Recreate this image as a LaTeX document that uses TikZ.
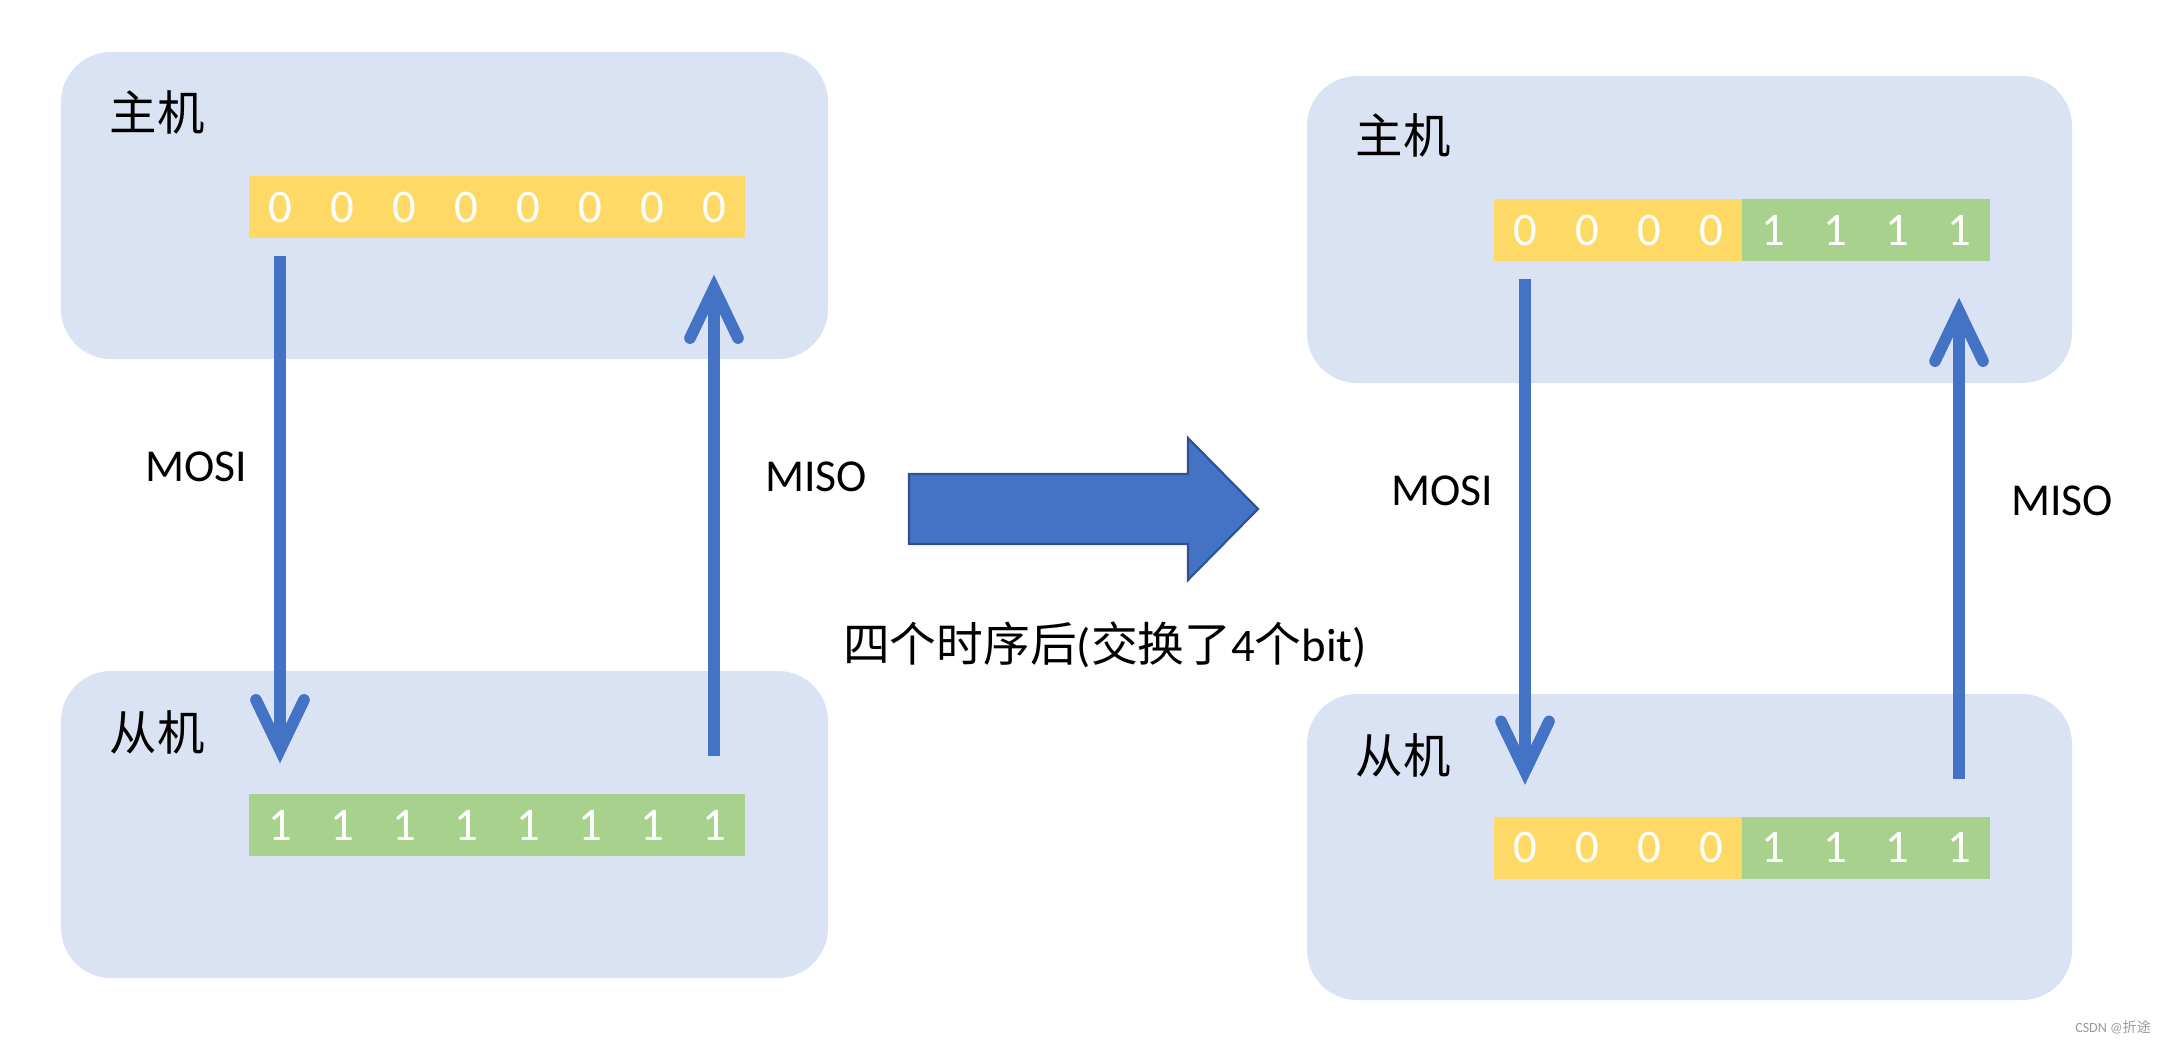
\documentclass[tikz,border=0pt]{standalone}
\usepackage{fontspec}
\setmainfont{Carlito}
\newfontfamily\cjk{Noto Sans CJK SC}
\usetikzlibrary{arrows.meta}
\definecolor{boxblue}{HTML}{DAE3F3}
\definecolor{bityellow}{HTML}{FFD966}
\definecolor{bitgreen}{HTML}{A9D18E}
\definecolor{arrowblue}{HTML}{4472C4}
\definecolor{arrowedge}{HTML}{2F528F}

\begin{document}
\begin{tikzpicture}[
    devbox/.style={fill=boxblue, rounded corners=0.5cm, minimum width=7.67cm, minimum height=3.07cm, inner sep=0pt},
    bitcell/.style={minimum width=0.625cm, minimum height=0.62cm, inner sep=0pt, text=white, font=\fontsize{13.3}{15}\selectfont},
    devlabel/.style={font=\cjk\fontsize{13.5}{16}\selectfont},
    linelabel/.style={font=\fontsize{13}{15}\selectfont},
    sigline/.style={arrowblue, line width=3.3pt, -{Straight Barb[length=0.5cm, width=0.48cm, line cap=round]}}
]
    \useasboundingbox (0,0) rectangle (21.63,10.41);

    % vorher
    \node[devbox] (lhost) at (4.445, 8.355) {};
    \node[devbox] (lslave) at (4.445, 2.165) {};
    \node[devlabel] (lhostlabel) at (1.57, 9.29) {主机};
    \node[devlabel] (lslavelabel) at (1.57, 3.09) {从机};

    \foreach \i in {1,...,8}
        \node[bitcell, fill=bityellow] (lm\i) at ({2.18+0.62*\i}, 8.34) {0};
    \foreach \i in {1,...,8}
        \node[bitcell, fill=bitgreen] (ls\i) at ({2.18+0.62*\i}, 2.16) {1};

    \draw[sigline] ([yshift=-0.17cm]lm1.south) -- ([yshift=0.30cm]ls1.north);
    \draw[sigline] ([yshift=0.37cm]ls8.north) -- ([yshift=-0.36cm]lm8.south);
    \node[linelabel] (lmosi) at (1.96, 5.74) {MOSI};
    \node[linelabel] (lmiso) at (8.16, 5.64) {MISO};

    % uebergang
    \draw[fill=arrowblue, draw=arrowedge, line width=0.6pt]
        (9.09,5.67) -- (11.88,5.67) -- (11.88,6.03) -- (12.58,5.32)
        -- (11.88,4.61) -- (11.88,4.97) -- (9.09,4.97) -- cycle;
    \node[font=\fontsize{13.3}{16}\selectfont] (step4) at (11.05, 3.96)
        {{\cjk 四个时序后}({\cjk 交换了}4{\cjk 个}bit)};

    % nachher
    \node[devbox, minimum width=7.65cm] (rhost) at (16.895, 8.115) {};
    \node[devbox, minimum width=7.65cm, minimum height=3.06cm] (rslave) at (16.895, 1.94) {};
    \node[devlabel] (rhostlabel) at (14.03, 9.06) {主机};
    \node[devlabel] (rslavelabel) at (14.03, 2.86) {从机};

    \foreach \i in {1,...,4} {
        \node[bitcell, fill=bityellow] (rm\i) at ({14.63+0.62*\i}, 8.11) {0};
        \node[bitcell, fill=bityellow] (rs\i) at ({14.63+0.62*\i}, 1.935) {0};
    }
    \foreach \i in {5,...,8} {
        \node[bitcell, fill=bitgreen] (rm\i) at ({14.63+0.62*\i}, 8.11) {1};
        \node[bitcell, fill=bitgreen] (rs\i) at ({14.63+0.62*\i}, 1.935) {1};
    }

    \draw[sigline] ([yshift=-0.17cm]rm1.south) -- ([yshift=0.31cm]rs1.north);
    \draw[sigline] ([yshift=0.37cm]rs8.north) -- ([yshift=-0.36cm]rm8.south);
    \node[linelabel] (rmosi) at (14.42, 5.50) {MOSI};
    \node[linelabel] (rmiso) at (20.62, 5.40) {MISO};

    \node[text=gray!80, font=\fontsize{4}{5}\selectfont] (mark) at (21.13, 0.14) {CSDN @{\cjk 折途}};
\end{tikzpicture}
\end{document}
